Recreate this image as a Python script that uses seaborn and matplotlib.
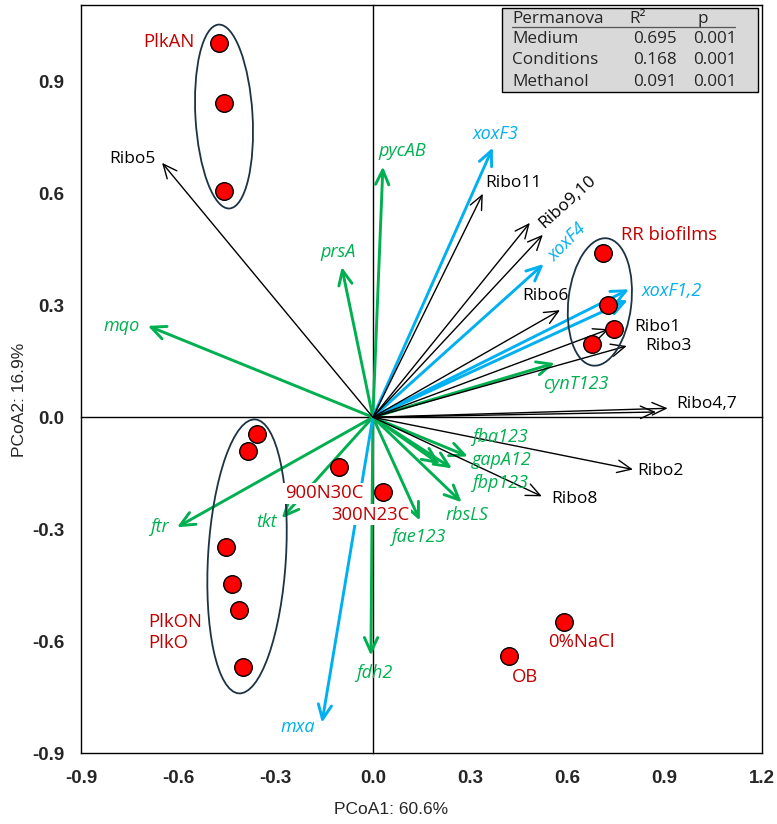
import matplotlib
matplotlib.use("Agg")
import matplotlib.pyplot as plt
import seaborn as sns
import pandas as pd
from matplotlib.patches import Ellipse, FancyArrowPatch, Rectangle, ArrowStyle
from matplotlib import font_manager as fm

# ---------------- data ----------------
sample_group = ["PlkAN", "PlkAN", "PlkAN",
                "RR", "RR", "RR", "RR",
                "PlkON", "PlkON", "PlkON", "PlkON", "PlkON", "PlkON",
                "900N30C", "300N23C", "OB", "0%NaCl"]
sample_x = [-0.475, -0.459, -0.459,
            0.709, 0.725, 0.743, 0.675,
            -0.358, -0.385, -0.453, -0.435, -0.413, -0.401,
            -0.105, 0.031, 0.419, 0.589]
sample_y = [1.002, 0.843, 0.607,
            0.440, 0.301, 0.236, 0.196,
            -0.046, -0.091, -0.349, -0.446, -0.516, -0.669,
            -0.134, -0.201, -0.639, -0.548]

ribo_names = ["Ribo5", "Ribo11", "Ribo9", "Ribo10", "Ribo6", "Ribo1", "Ribo3",
              "Ribo4", "Ribo7", "Ribo2", "Ribo8"]
ribo_x = [-0.650, 0.339, 0.484, 0.524, 0.577, 0.728, 0.783, 0.909, 0.873, 0.802, 0.521]
ribo_y = [0.682, 0.599, 0.521, 0.489, 0.287, 0.236, 0.191, 0.024, 0.014, -0.140, -0.212]

green_names = ["pycAB", "prsA", "mqo", "cynT123", "fba123", "gapA12", "fbp123",
               "rbsLS", "fae123", "fdh2", "ftr", "tkt"]
green_x = [0.031, -0.096, -0.694, 0.561, 0.293, 0.244, 0.207, 0.274, 0.145, -0.006, -0.604, -0.281]
green_y = [0.672, 0.403, 0.245, 0.145, -0.105, -0.137, -0.126, -0.228, -0.277, -0.639, -0.295, -0.271]

blue_names = ["xoxF3", "xoxF4", "xoxF1", "xoxF2", "mxa"]
blue_x = [0.370, 0.527, 0.790, 0.786, -0.157]
blue_y = [0.723, 0.411, 0.343, 0.314, -0.819]

# group ellipses (centre x, centre y, width, height, tilt)
ell_names = ["PlkAN", "PlkON", "RR"]
ell_cx = [-0.459, -0.388, 0.700]
ell_cy = [0.806, -0.373, 0.309]
ell_w = [0.176, 0.240, 0.194]
ell_h = [0.494, 0.736, 0.344]
ell_ang = [4, -4, -8]

perm_terms = ["Medium", "Conditions", "Methanol"]
perm_r2 = ["0.695", "0.168", "0.091"]
perm_p = ["0.001", "0.001", "0.001"]

xticks = [-0.9, -0.6, -0.3, 0.0, 0.3, 0.6, 0.9, 1.2]
yticks = [-0.9, -0.6, -0.3, 0.0, 0.3, 0.6, 0.9]

# ---------------- label layout (data coords) ----------------
arrow_labels = [
    ("Ribo5", -0.740, 0.693, 0, "k", "normal"),
    ("mqo", -0.774, 0.244, 0, "g", "italic"),
    ("pycAB", 0.092, 0.714, 0, "g", "italic"),
    ("prsA", -0.108, 0.443, 0, "g", "italic"),
    ("xoxF3", 0.379, 0.760, 0, "b", "italic"),
    ("Ribo11", 0.435, 0.628, 0, "k", "normal"),
    ("Ribo9,10", 0.601, 0.577, 42, "k", "normal"),
    ("xoxF4", 0.601, 0.470, 45, "b", "italic"),
    ("xoxF1,2", 0.922, 0.338, 0, "b", "italic"),
    ("Ribo6", 0.533, 0.325, 0, "k", "normal"),
    ("Ribo1", 0.879, 0.242, 0, "k", "normal"),
    ("Ribo3", 0.913, 0.191, 0, "k", "normal"),
    ("cynT123", 0.626, 0.089, 0, "g", "italic"),
    ("Ribo4,7", 1.030, 0.035, 0, "k", "normal"),
    ("fba123", 0.392, -0.054, 0, "g", "italic"),
    ("gapA12", 0.398, -0.115, 0, "g", "italic"),
    ("fbp123", 0.392, -0.175, 0, "g", "italic"),
    ("Ribo2", 0.888, -0.145, 0, "k", "normal"),
    ("Ribo8", 0.623, -0.218, 0, "k", "normal"),
    ("rbsLS", 0.290, -0.261, 0, "g", "italic"),
    ("fae123", 0.139, -0.320, 0, "g", "italic"),
    ("tkt", -0.327, -0.281, 0, "g", "italic"),
    ("ftr", -0.657, -0.293, 0, "g", "italic"),
    ("fdh2", 0.003, -0.685, 0, "g", "italic"),
    ("mxa", -0.231, -0.830, 0, "b", "italic"),
]
sample_labels = [
    ("PlkAN", -0.629, 1.005, "center", False),
    ("RR biofilms", 0.913, 0.489, "center", False),
    ("PlkON\nPlkO", -0.694, -0.577, "left", False),
    ("900N30C", -0.151, -0.204, "center", True),
    ("300N23C", -0.009, -0.261, "center", True),
    ("OB", 0.469, -0.696, "center", False),
    ("0%NaCl", 0.644, -0.602, "center", False),
]

# ---------------- style ----------------
sns.set_theme(style="white")
plt.rcParams["font.family"] = ["Open Sans", "DejaVu Sans"]

GREEN = "#00b050"
BLUE = "#00b0f0"
BLACK = "#000000"
RED_TXT = "#c00000"
cmap = {"k": BLACK, "g": GREEN, "b": BLUE}

names = {f.name for f in fm.fontManager.ttflist}
narrow = "Liberation Sans Narrow" if "Liberation Sans Narrow" in names else "Liberation Sans"

fig = plt.figure(figsize=(7.77, 8.24), dpi=100)
rect = [81 / 777, 1 - 753 / 824, 681 / 777, 748 / 824]
XL = (-0.9, 1.2)
YL = (-0.9, 1.105)

# background axes: zero-crossing axis lines with tick marks
ax0 = fig.add_axes(rect, zorder=0)
ax0.set_xlim(*XL)
ax0.set_ylim(*YL)
for s in ["top", "right"]:
    ax0.spines[s].set_visible(False)
ax0.spines["left"].set_position(("data", 0))
ax0.spines["bottom"].set_position(("data", 0))
for s in ["left", "bottom"]:
    ax0.spines[s].set_color("black")
    ax0.spines[s].set_linewidth(1.0)
ax0.set_xticks(xticks)
ax0.set_yticks(yticks)
ax0.tick_params(direction="out", length=5, width=1, color="black",
                labelleft=False, labelbottom=False)
ax0.patch.set_visible(False)

# main axes
ax = fig.add_axes(rect, zorder=1)
ax.patch.set_alpha(0)
ax.set_xlim(*XL)
ax.set_ylim(*YL)
for s in ax.spines.values():
    s.set_visible(True)
    s.set_color("black")
    s.set_linewidth(1.0)
ax.set_xticks(xticks)
ax.set_yticks(yticks)
ax.set_xticklabels([f"{v:.1f}" for v in xticks])
ax.set_yticklabels([f"{v:.1f}" for v in yticks])
ax.tick_params(length=0, pad=12)
for lab in ax.get_xticklabels() + ax.get_yticklabels():
    lab.set_fontfamily("Liberation Sans")
    lab.set_fontweight("bold")
    lab.set_fontsize(13.5)
ax.set_xlabel("")
ax.set_ylabel("")


def draw_arrows(xs, ys, color, lw, hl, hw):
    for x, y in zip(xs, ys):
        arr = FancyArrowPatch((0, 0), (x, y),
                              arrowstyle=ArrowStyle("->", head_length=hl, head_width=hw),
                              mutation_scale=10, color=color, lw=lw,
                              shrinkA=0, shrinkB=0, zorder=3)
        ax.add_patch(arr)


draw_arrows(green_x, green_y, GREEN, 2.1, 1.05, 0.48)
draw_arrows(blue_x, blue_y, BLUE, 2.1, 1.05, 0.48)
draw_arrows(ribo_x, ribo_y, BLACK, 1.0, 1.0, 0.45)

# ellipses
for cx, cy, w, h, a in zip(ell_cx, ell_cy, ell_w, ell_h, ell_ang):
    ax.add_patch(Ellipse((cx, cy), w, h, angle=a, fill=False,
                         edgecolor="#1c3344", lw=1.3, zorder=4))

# sample points
df = pd.DataFrame({"PCoA1": sample_x, "PCoA2": sample_y, "group": sample_group})
sns.scatterplot(data=df, x="PCoA1", y="PCoA2", ax=ax, color="#ff0000",
                edgecolor="black", linewidth=1.0, s=160, zorder=6, legend=False)
ax.set_xlabel("")
ax.set_ylabel("")

# labels
for txt, x, y, rot, c, style in arrow_labels:
    fs = 13 if style == "italic" else 12.5
    ax.text(x, y, txt, color=cmap[c], fontsize=fs, fontstyle=style,
            rotation=rot, ha="center", va="center", zorder=7)
for txt, x, y, ha, bg in sample_labels:
    kw = {}
    if bg:
        kw["bbox"] = dict(facecolor="white", edgecolor="none", pad=1.0)
    ax.text(x, y, txt, color=RED_TXT, fontsize=13.3, ha=ha, va="center",
            linespacing=1.2, zorder=8, **kw)

# permanova table (axes coords)
ax.add_patch(Rectangle((0.618, 0.884), 0.376, 0.112, transform=ax.transAxes,
                       facecolor="#d9d9d9", edgecolor="black", lw=1.0, zorder=9))
tfs = 12.3
ax.text(0.633, 0.981, "Permanova", transform=ax.transAxes, fontsize=tfs,
        va="center", ha="left", zorder=10)
ax.text(0.805, 0.981, "R\u00b2", transform=ax.transAxes, fontsize=tfs,
        va="center", ha="left", zorder=10)
ax.text(0.905, 0.981, "p", transform=ax.transAxes, fontsize=tfs,
        va="center", ha="left", zorder=10)
ax.plot([0.633, 0.960], [0.970, 0.970], transform=ax.transAxes,
        color="#555555", lw=0.9, zorder=10)
for i, (t, r2, p) in enumerate(zip(perm_terms, perm_r2, perm_p)):
    yy = 0.955 - i * 0.029
    ax.text(0.633, yy, t, transform=ax.transAxes, fontsize=tfs, va="center", zorder=10)
    ax.text(0.811, yy, r2, transform=ax.transAxes, fontsize=tfs, va="center", zorder=10)
    ax.text(0.899, yy, p, transform=ax.transAxes, fontsize=tfs, va="center", zorder=10)

# axis titles
fig.text(391 / 777, 1 - 810 / 824, "PCoA1: 60.6%", ha="center", va="center",
         fontsize=12.5, family=narrow)
fig.text(20 / 777, 1 - 400 / 824, "PCoA2: 16.9%", ha="center", va="center",
         rotation=90, fontsize=12.5, family=narrow)

fig.savefig("out.png", dpi=100)
